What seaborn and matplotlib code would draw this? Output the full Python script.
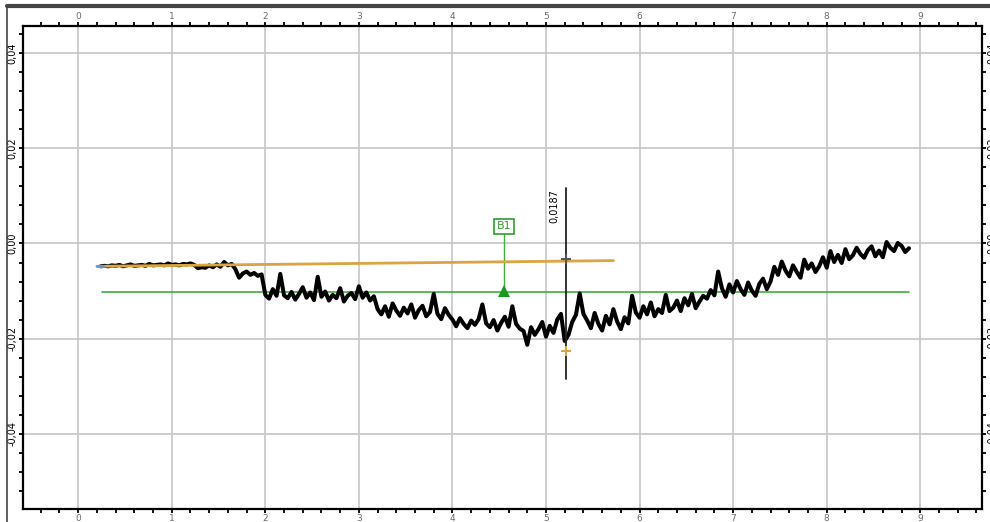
import numpy as np
import pandas as pd
import matplotlib
matplotlib.use("Agg")
import matplotlib.pyplot as plt
import seaborn as sns
from matplotlib.lines import Line2D
from matplotlib.ticker import MultipleLocator, FuncFormatter

# ---------------- data ----------------
# sampled trace: start position, sample step (x units), values in 1e-3 units
trace_start = 0.24
trace_step = 0.04
trace_milli = [
    # 0.24 - 1.24
    -4.8, -4.7, -4.8, -4.6, -4.7, -4.5, -4.8, -4.6, -4.4, -4.7, -4.6, -4.5, -4.7,
    -4.3, -4.6, -4.5, -4.4, -4.6, -4.2, -4.5, -4.4, -4.6, -4.3, -4.4, -4.2, -4.5,
    # 1.28 - 1.64
    -5.2, -5.0, -5.1, -4.6, -5.0, -4.4, -4.9, -3.9, -4.6, -4.3,
    # 1.68 - 1.96
    -5.4, -7.2, -6.3, -5.9, -6.6, -6.2, -6.8, -6.5,
    # 2.00 - 2.96
    -10.8, -11.6, -9.6, -11.0, -6.4, -10.9, -11.5, -10.2, -11.8, -10.6, -9.2, -11.4,
    -10.3, -11.9, -7.0, -11.2, -10.1, -12.0, -10.8, -11.5, -9.4, -12.2, -11.0, -10.4, -11.7,
    # 3.00 - 3.96
    -9.0, -11.4, -10.3, -12.0, -11.1, -13.8, -14.9, -13.2, -15.4, -12.6, -14.1, -15.2,
    -13.5, -14.7, -12.8, -15.6, -14.0, -13.1, -15.3, -14.4, -10.6, -14.8, -15.9, -13.6, -15.0,
    # 4.00 - 4.72
    -16.0, -17.4, -15.7, -16.9, -17.8, -16.2, -17.1, -15.9, -12.8, -16.8, -17.6, -16.1,
    -18.3, -16.7, -15.4, -17.5, -13.2, -16.9, -17.9,
    # 4.76 - 5.16
    -18.4, -21.3, -17.6, -19.2, -18.0, -16.5, -19.6, -17.3, -18.8, -16.0, -14.8,
    # 5.20 - 5.40
    -20.5, -19.2, -16.5, -15.0, -10.5, -14.8,
    # 5.44 - 5.84
    -16.2, -17.8, -14.6, -16.9, -18.3, -15.2, -17.0, -13.8, -16.4, -18.0, -15.5,
    # 5.88 - 6.32
    -16.8, -11.0, -14.5, -15.6, -13.2, -14.9, -12.4, -15.3, -13.8, -14.6, -10.8, -14.2,
    # 6.36 - 6.68
    -13.5, -12.0, -14.2, -11.5, -13.0, -10.6, -13.6, -12.2, -11.0,
    # 6.72 - 7.08
    -11.6, -9.8, -10.9, -5.9, -9.4, -11.2, -8.6, -10.3, -7.9, -9.6,
    # 7.12 - 7.40
    -10.8, -8.2, -9.9, -11.0, -8.5, -7.4, -9.6, -8.0,
    # 7.44 - 7.72
    -4.9, -6.6, -3.8, -5.7, -6.9, -4.6, -6.0, -7.2,
    # 7.76 - 8.00
    -3.4, -5.3, -4.2, -6.0, -4.8, -2.9, -5.1,
    # 8.04 - 8.24
    -1.6, -3.9, -2.4, -4.1, -1.2, -3.3,
    # 8.28 - 8.60
    -2.5, -0.9, -2.2, -3.0, -1.4, -0.6, -2.7, -1.5, -2.9,
    # 8.64 - 8.88
    0.3, -0.9, -1.6, 0.1, -0.5, -1.8, -1.0,
]

# orange fit line (x, y)
fit_x = [0.20, 5.72]
fit_y = [-0.0048, -0.0036]

# green baseline B1
base_x = [0.25, 8.88]
base_y = [-0.0103, -0.0103]
b1_label = "B1"
b1_x = 4.55
b1_box_y = 0.0036

# cursor
cursor_x = 5.21
cursor_y = [0.0116, -0.0284]
cursor_label = "0,0187"
cursor_mark_top = -0.0032
cursor_mark_bottom = -0.0225

x_ticks = [0, 1, 2, 3, 4, 5, 6, 7, 8, 9]
y_ticks = [-0.04, -0.02, 0.0, 0.02, 0.04]

# ---------------- figure ----------------
sns.set_theme(style="white")
plt.rcParams["font.family"] = ["DejaVu Sans"]

fig = plt.figure(figsize=(9.9, 5.22), dpi=100)
ax = fig.add_axes([23 / 990, 1 - 509 / 522, (982 - 23) / 990, (509 - 26) / 522])

trace_y = np.array(trace_milli) / 1000.0
trace_x = trace_start + trace_step * np.arange(len(trace_y))
df = pd.DataFrame({"x": trace_x, "y": trace_y})

# baseline (green)
sns.lineplot(x=base_x, y=base_y, ax=ax, color="#3fae3f", lw=1.2, zorder=2)
# noisy trace
sns.lineplot(data=df, x="x", y="y", ax=ax, color="black", lw=2.9,
             estimator=None, sort=False, zorder=3)
# orange fit line
sns.lineplot(x=fit_x, y=fit_y, ax=ax, color="#d9a441", lw=2.0, zorder=4)
ax.plot([fit_x[0], fit_x[0] + 0.07], [fit_y[0], fit_y[0]], color="#5b9bd5", lw=2, zorder=4)

# B1 marker
ax.plot([b1_x, b1_x], [base_y[0], b1_box_y], color="#3fae3f", lw=1.0, zorder=2)
ax.plot([b1_x], [base_y[0] + 0.0004], marker="^", ms=9, color="#1a9a1a",
        markeredgewidth=0, zorder=5)
ax.text(b1_x, b1_box_y, b1_label, ha="center", va="center", fontsize=8,
        color="#2e9e2e", zorder=6,
        bbox=dict(boxstyle="square,pad=0.25", fc="white", ec="#2e9e2e", lw=1.2))

# cursor
ax.plot([cursor_x, cursor_x], cursor_y, color="#222222", lw=1.3, zorder=6)
ax.plot([cursor_x], [cursor_mark_top], marker="+", ms=7, mew=1.5, color="#555555", zorder=7)
ax.plot([cursor_x], [cursor_mark_bottom], marker="+", ms=7, mew=1.5, color="#d9a441", zorder=7)
ax.text(cursor_x - 0.12, cursor_y[0] - 0.0002, cursor_label, rotation=90,
        ha="center", va="top", fontsize=7, color="black", zorder=7)

# axes formatting
ax.set_xlim(-0.59, 9.66)
ax.set_ylim(-0.0558, 0.0457)
ax.set_xticks(x_ticks)
ax.set_yticks(y_ticks)
ax.xaxis.set_minor_locator(MultipleLocator(0.2))
ax.yaxis.set_minor_locator(MultipleLocator(0.004))
ax.yaxis.set_major_formatter(FuncFormatter(lambda v, p: f"{v:.2f}".replace(".", ",").replace("-0,00", "0,00")))
ax.grid(True, which="major", color="#c9c9c9", lw=1.3)
ax.set_axisbelow(True)
ax.set_xlabel("")
ax.set_ylabel("")
for s in ax.spines.values():
    s.set_visible(True)
    s.set_color("black")
    s.set_linewidth(1.6)

ax.tick_params(axis="x", which="both", direction="out", top=True, bottom=True,
               labeltop=True, labelbottom=True, length=3, width=1.3, color="black",
               labelsize=6.5, labelcolor="#6a6a6a", pad=0.5)
ax.tick_params(axis="y", which="both", direction="out", left=True, right=True,
               labelleft=True, labelright=True, length=3, width=1.3, color="black",
               labelsize=7, labelcolor="black", pad=1)
for lab in ax.get_yticklabels():
    lab.set_rotation(90)
    lab.set_va("center")

# outer window frame
fig.add_artist(Line2D([7 / 990, 1.0], [1 - 6 / 522, 1 - 6 / 522], color="#444444", lw=3,
                      transform=fig.transFigure))
fig.add_artist(Line2D([7 / 990, 7 / 990], [0, 1 - 6 / 522], color="#444444", lw=1.2,
                      transform=fig.transFigure))

fig.savefig("out.png", dpi=100)
